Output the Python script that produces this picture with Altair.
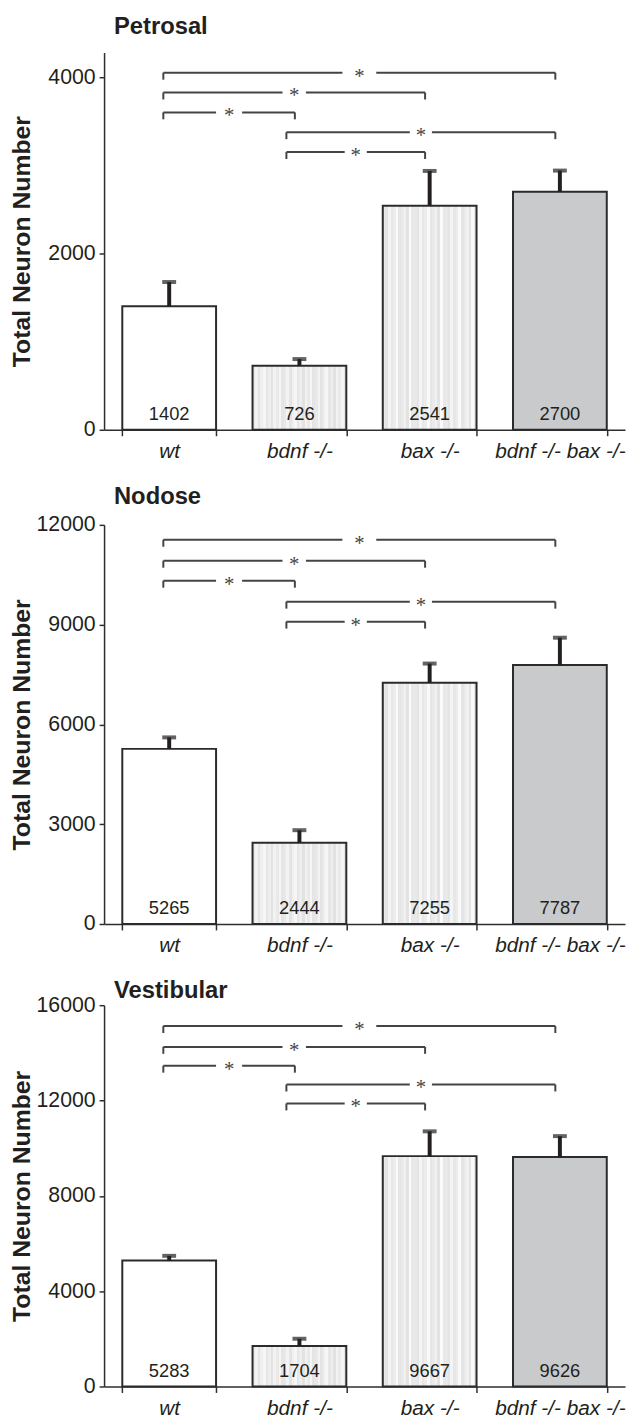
import altair as alt
import pandas as pd

groups = ["wt", "bdnf -/-", "bax -/-", "bdnf -/- bax -/-"]

panel_titles = ["Petrosal", "Nodose", "Vestibular"]
petrosal_mean = [1402, 726, 2541, 2700]
petrosal_sem = [274, 76, 395, 240]
nodose_mean = [5265, 2444, 7255, 7787]
nodose_sem = [345, 376, 575, 820]
vestibular_mean = [5283, 1704, 9667, 9626]
vestibular_sem = [200, 300, 1040, 880]

# significance brackets (all marked *)
bracket_from = ["wt", "wt", "wt", "bdnf -/-", "bdnf -/-"]
bracket_to = ["bdnf -/- bax -/-", "bax -/-", "bdnf -/-", "bdnf -/- bax -/-", "bax -/-"]
petrosal_bracket_y = [4050, 3825, 3600, 3375, 3150]
nodose_bracket_y = [11550, 10920, 10320, 9690, 9090]
vestibular_bracket_y = [15125, 14250, 13460, 12670, 11875]

petrosal_ticks = [0, 2000, 4000]
nodose_ticks = [0, 3000, 6000, 9000, 12000]
vestibular_ticks = [0, 4000, 8000, 12000, 16000]
y_max = [4280, 12000, 16000]

# ---------------- style ----------------
FONT = "Liberation Sans"
INK = "#231f20"
AXC = "#2e2e2e"
BRC = "#444444"
BAR_STROKE = "#2b2b2b"
W = 526


def stripes(pattern):
    n = len(pattern)
    stops = []
    for k, c in enumerate(pattern):
        stops.append(alt.GradientStop(color=c, offset=k / n))
        stops.append(alt.GradientStop(color=c, offset=(k + 1) / n))
    return alt.LinearGradient(gradient="linear", x1=0, x2=1, y1=0, y2=0, stops=stops)


pat_b = ["#e8e8e8", "#f3f3f3", "#e4e4e4", "#efefef", "#f6f6f6", "#e6e6e6",
         "#eeeeee", "#e2e2e2", "#f2f2f2", "#e9e9e9", "#f5f5f5", "#e5e5e5"] * 3
pat_c = ["#e9e9e9", "#e4e4e4", "#f4f4f4", "#e7e7e7", "#ececec", "#fafafa",
         "#e5e5e5", "#eaeaea", "#f1f1f1", "#e3e3e3", "#fbfbfb", "#e8e8e8"] * 3
bar_fills = ["#ffffff", stripes(pat_b), stripes(pat_c), "#c9cacc"]

left_nudge = {"wt": -0.045, "bdnf -/-": -0.10}
right_nudge = -0.035
gap_half = [0.13, 0.09, 0.10, 0.085, 0.085]


def panel(title, means, sems, levels, ticks, ymax, height, title_offset):
    bars_df = pd.DataFrame({
        "group": groups,
        "mean": means,
        "top": [m + s for m, s in zip(means, sems)],
    })
    x_band = alt.X(
        "group:N", sort=groups,
        scale=alt.Scale(domain=groups, paddingInner=0.28, paddingOuter=0.14),
        axis=alt.Axis(title=None, tickBand="extent", labelAngle=0, labelFont=FONT,
                      labelFontStyle="italic", labelFontSize=21, labelColor=INK,
                      labelPadding=5, tickSize=6, tickWidth=1.5, tickColor=AXC,
                      domainColor=AXC, domainWidth=1.5),
    )
    yscale = alt.Scale(domain=[0, ymax], nice=False, zero=True)
    yaxis = alt.Axis(title="Total Neuron Number", values=ticks, format="d", grid=False,
                     labelFont=FONT, labelFontSize=21.5, labelColor=INK, labelPadding=4,
                     tickSize=5, tickWidth=1.5, tickColor=AXC, domainColor=AXC,
                     domainWidth=1.5, titleFont=FONT, titleFontSize=25,
                     titleFontWeight="bold", titleColor=INK, titlePadding=3,
                     minExtent=67, maxExtent=67)

    def Y(field):
        return alt.Y(field, scale=yscale, axis=yaxis)

    base = alt.Chart(bars_df)
    layers = []
    for g, fill in zip(groups, bar_fills):
        layers.append(
            base.transform_filter(alt.datum.group == g)
            .mark_bar(fill=fill, stroke=BAR_STROKE, strokeWidth=2)
            .encode(x=x_band, y=Y("mean:Q"))
        )
    err = base.mark_rule(color=INK, strokeWidth=4).encode(
        x=x_band, y=Y("mean:Q"), y2=alt.Y2("top:Q"))
    cap = base.mark_tick(color=INK, thickness=4, size=14, orient="horizontal").encode(
        x=x_band, y=Y("top:Q"))
    vals = base.mark_text(font=FONT, fontSize=18.5, color=INK, baseline="alphabetic",
                          dy=-10).encode(
        x=x_band, y=alt.YDatum(0, scale=yscale, axis=yaxis),
        text=alt.Text("mean:Q", format="d"))
    bar_part = alt.layer(*layers, err, cap, vals)

    pos = {g: i + 0.5 for i, g in enumerate(groups)}
    x1 = [pos[a] + left_nudge[a] for a in bracket_from]
    x2 = [pos[b] + right_nudge for b in bracket_to]
    xm = [(a + b) / 2 for a, b in zip(x1, x2)]
    br = pd.DataFrame({
        "x1": x1, "x2": x2, "xm": xm, "level": levels,
        "ga": [m - g for m, g in zip(xm, gap_half)],
        "gb": [m + g for m, g in zip(xm, gap_half)],
    })

    def XQ(field):
        return alt.X(field, type="quantitative",
                     scale=alt.Scale(domain=[0, 4], nice=False, zero=False), axis=None)

    bc = alt.Chart(br)
    seg1 = bc.mark_rule(color=BRC, strokeWidth=2).encode(
        x=XQ("x1"), x2=alt.X2("ga"), y=Y("level:Q"))
    seg2 = bc.mark_rule(color=BRC, strokeWidth=2).encode(
        x=XQ("gb"), x2=alt.X2("x2"), y=Y("level:Q"))
    dropl = bc.mark_rule(color=BRC, strokeWidth=2, y2Offset=7).encode(
        x=XQ("x1"), y=Y("level:Q"), y2=alt.Y2("level:Q"))
    dropr = bc.mark_rule(color=BRC, strokeWidth=2, y2Offset=7).encode(
        x=XQ("x2"), y=Y("level:Q"), y2=alt.Y2("level:Q"))
    star = bc.mark_text(text="*", font="Liberation Serif", fontSize=21, color=BRC,
                        baseline="middle", dy=4).encode(x=XQ("xm"), y=Y("level:Q"))
    br_part = alt.layer(seg1, seg2, dropl, dropr, star)

    return alt.layer(bar_part, br_part).resolve_scale(x="independent").properties(
        width=W, height=height,
        title=alt.TitleParams(text=title, anchor="start", frame="group", dx=10,
                              offset=title_offset, font=FONT, fontSize=24,
                              fontWeight="bold", color=INK, baseline="alphabetic"),
    )


p1 = panel(panel_titles[0], petrosal_mean, petrosal_sem, petrosal_bracket_y,
           petrosal_ticks, y_max[0], 381, -5)
p2 = panel(panel_titles[1], nodose_mean, nodose_sem, nodose_bracket_y,
           nodose_ticks, y_max[1], 403, -14)
p3 = panel(panel_titles[2], vestibular_mean, vestibular_sem, vestibular_bracket_y,
           vestibular_ticks, y_max[2], 385, -28)

chart = alt.vconcat(p1, p2, p3, spacing=24).properties(
    padding={"left": 2, "top": 0, "right": 0, "bottom": 0}
).configure_view(stroke=None)

chart.save("out.html", embed_options={"renderer": "svg", "actions": False})
